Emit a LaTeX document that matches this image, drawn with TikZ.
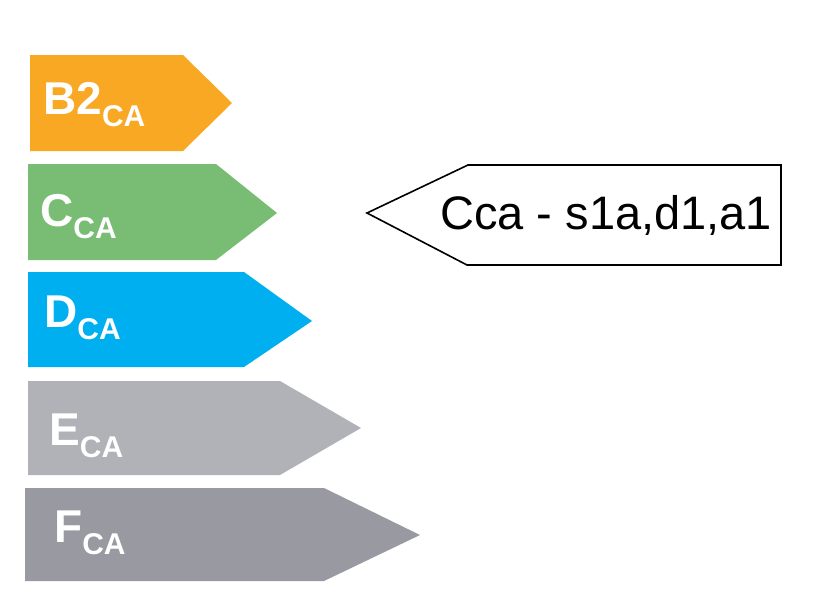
\documentclass[tikz,border=0pt]{standalone}
\usepackage{fontspec}
\setmainfont{Liberation Sans}
\definecolor{cB}{RGB}{249,168,36}
\definecolor{cC}{RGB}{121,189,116}
\definecolor{cD}{RGB}{0,175,239}
\definecolor{cE}{RGB}{177,178,184}
\definecolor{cF}{RGB}{152,153,161}
\tikzset{
  lbl/.style={anchor=base west, inner sep=0pt, text=white, font=\bfseries\fontsize{46}{46}\selectfont},
  callout/.style={draw=black, line width=1.6pt, fill=white, line join=miter}
}
\newcommand{\subCA}{{\fontsize{30}{30}\selectfont\raisebox{-12pt}{CA}}}
\begin{document}
\begin{tikzpicture}[x=1pt,y=-1pt]
\useasboundingbox (0,0) rectangle (824,608);
% arrows
\fill[cB] (30,55) -- (183,55) -- (232,103) -- (183,151) -- (30,151) -- cycle;
\fill[cC] (28,164) -- (216,164) -- (277,213) -- (216,260) -- (28,260) -- cycle;
\fill[cD] (28,272) -- (244,272) -- (312,321) -- (244,367) -- (28,367) -- cycle;
\fill[cE] (28,381) -- (280,381) -- (361,428) -- (280,475) -- (28,475) -- cycle;
\fill[cF] (25,488) -- (324,488) -- (420,535) -- (324,581) -- (25,581) -- cycle;
% labels
\node[lbl] (lB) at (43,114) {B2\subCA};
\node[lbl] (lC) at (40,226) {C\subCA};
\node[lbl] (lD) at (44,327) {D\subCA};
\node[lbl] (lE) at (49,445) {E\subCA};
\node[lbl] (lF) at (54,542) {F\subCA};
% callout
\draw[callout] (367,213) -- (468,165) -- (781,165) -- (781,265) -- (467,265) -- cycle;
\node[anchor=base west, inner sep=0pt, font=\fontsize{47}{47}\selectfont] (ct) at (440,229) {Cca - s1a,d1,a1};
\end{tikzpicture}
\end{document}
